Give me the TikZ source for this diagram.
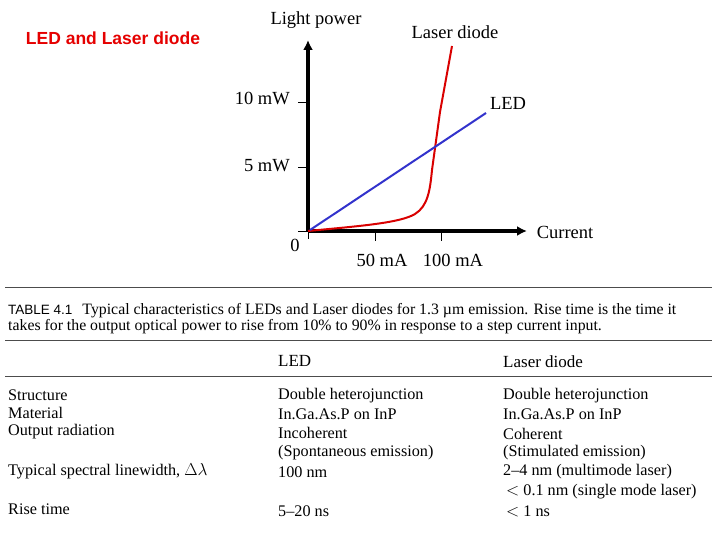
\documentclass[tikz,border=0pt]{standalone}
\usepackage{fontspec}
\setmainfont{Liberation Serif}
\newfontfamily\arial{Liberation Sans}
\usetikzlibrary{arrows.meta}
\begin{document}
\begin{tikzpicture}[x=1pt,y=-1pt,
  ax/.style={line width=3.6pt,-{Latex[length=10pt,width=10pt]}},
  tk/.style={line width=0.8pt},
  lbl/.style={font=\fontsize{18.5}{20}\selectfont,inner sep=0pt},
  tx/.style={font=\fontsize{16.2}{17}\selectfont,inner sep=0pt,anchor=west},
  rl/.style={line width=0.9pt,gray!60!black}]
\useasboundingbox (0,0) rectangle (720,540);
% title
\node[font=\arial\bfseries\fontsize{17.5}{20}\selectfont,text=red!90!black] (ttl) at (113,38) {LED and Laser diode};
% axes
\coordinate (o) at (308,231);
\coordinate (ytop) at (308,40);
\coordinate (xend) at (527,231);
\draw[ax] (o) -- (ytop);
\draw[ax] (o) -- (xend);
\draw[tk] (298,102) -- (308,102) (298,167) -- (308,167) (375,231) -- (375,241) (441,231) -- (441,241) (308,231)--(308,239) (298,231)--(308,231);
% curves
\draw[red!85!black,line width=2pt] (o) .. controls (360,226) and (400,223) .. (415,214)
  .. controls (428,206) and (430,190) .. (432,170) -- (440,112) -- (452,46);
\draw[blue!75!white!80!black,line width=2pt] (310,230) -- (486,113);
% labels
\node[lbl,anchor=east] (t10) at (290,98) {10 mW};
\node[lbl,anchor=east] (t5) at (290,166) {5 mW};
\node[lbl] (lp) at (316,20) {Light power};
\node[lbl] (ld) at (455,32) {Laser diode};
\node[lbl] (led) at (508,103) {LED};
\node[lbl] (cur) at (565,232) {Current};
\node[lbl] (z) at (295,245) {0};
\node[lbl] (m50) at (382,260) {50 mA};
\node[lbl] (m100) at (453,260) {100 mA};
% table
\draw[rl] (5,287) -- (712,287);
\draw[rl] (5,340) -- (712,340);
\draw[rl] (5,376) -- (712,376);
\node[tx,font=\fontsize{15.8}{17}\selectfont] (cap1) at (8,311) {{\arial\fontsize{13.5}{14}\selectfont TABLE 4.1}\hspace{10pt}Typical characteristics of LEDs and Laser diodes for 1.3 \textmu m emission. Rise time is the time it};
\node[tx,font=\fontsize{15.8}{17}\selectfont] (cap2) at (8,327) {takes for the output optical power to rise from 10\% to 90\% in response to a step current input.};
\node[tx,font=\fontsize{17}{18}\selectfont] (h1) at (278,361) {LED};
\node[tx,font=\fontsize{17}{18}\selectfont] (h2) at (503,362) {Laser diode};
\node[tx] (a1) at (8,395) {Structure};
\node[tx] (a2) at (8,413) {Material};
\node[tx] (a3) at (8,432) {Output radiation};
\node[tx] (a4) at (8,471) {Typical spectral linewidth, $\Delta\lambda$};
\node[tx] (a5) at (8,509) {Rise time};
\node[tx] (b1) at (278,396) {Double heterojunction};
\node[tx] (b2) at (278,414) {In.Ga.As.P on InP};
\node[tx] (b3) at (278,433) {Incoherent};
\node[tx] (b4) at (278,453) {(Spontaneous emission)};
\node[tx] (b5) at (278,472) {100 nm};
\node[tx] (b6) at (278,511) {5--20 ns};
\node[tx] (c1) at (503,396) {Double heterojunction};
\node[tx] (c2) at (503,414) {In.Ga.As.P on InP};
\node[tx] (c3) at (503,434) {Coherent};
\node[tx] (c4) at (503,453) {(Stimulated emission)};
\node[tx] (c5) at (503,472) {2--4 nm (multimode laser)};
\node[tx] (c6) at (506,492) {$<$ 0.1 nm (single mode laser)};
\node[tx] (c7) at (506,511) {$<$ 1 ns};
\end{tikzpicture}
\end{document}
